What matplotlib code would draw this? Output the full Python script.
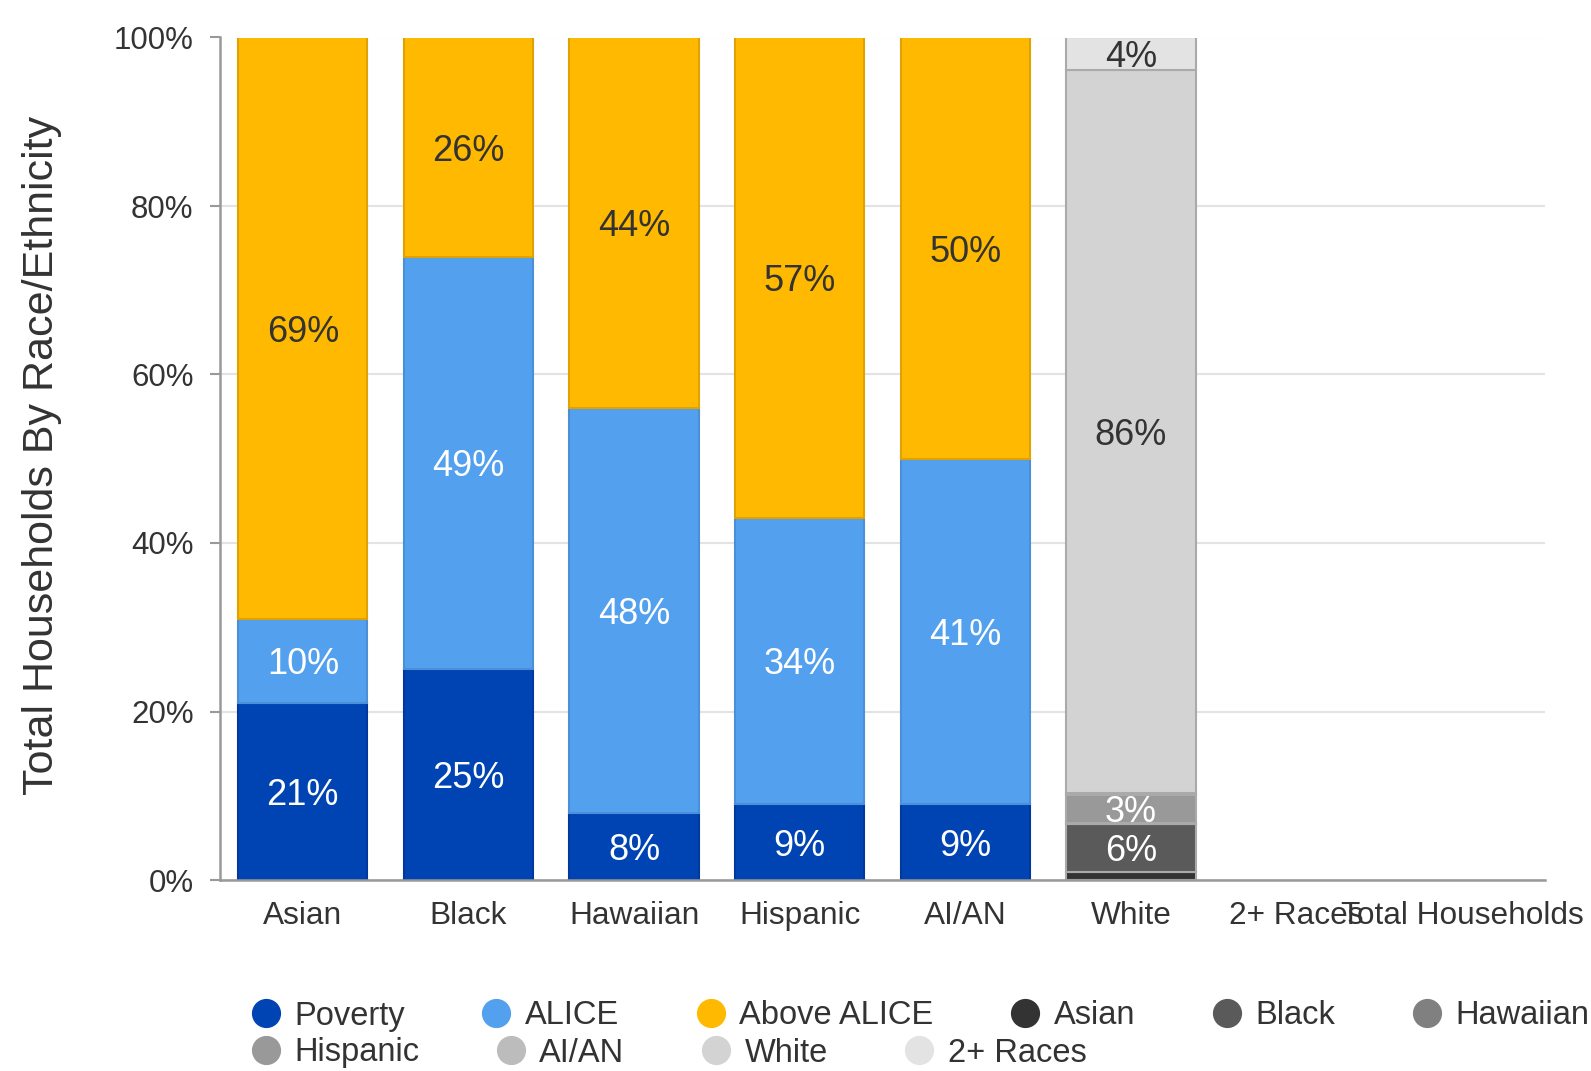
import matplotlib
matplotlib.use("Agg")
import matplotlib.pyplot as plt
from matplotlib.lines import Line2D
import numpy as np

plt.rcParams['font.family'] = ['Liberation Sans', 'DejaVu Sans']

categories = ["Asian", "Black", "Hawaiian", "Hispanic", "AI/AN", "White", "2+ Races", "Total Households"]

# Income status by race (percent)
poverty = [21, 25, 8, 9, 9]
alice = [10, 49, 48, 34, 41]
above_alice = [69, 26, 44, 57, 50]

# Racial composition of total households (drawn in 6th slot)
comp_labels = ["Asian", "Black", "Hawaiian", "Hispanic", "AI/AN", "White", "2+ Races"]
comp_values = [1.0, 5.7, 0.1, 3.3, 0.2, 85.8, 3.9]

status_labels = ["Poverty", "ALICE", "Above ALICE"]
status_colors = ["#0044b4", "#52a0ee", "#ffb900"]
status_edges = ["#0038a0", "#4a8fd8", "#e0a200"]
status_text = ["white", "white", "#333333"]

comp_colors = ["#333333", "#5a5a5a", "#808080", "#999999", "#bcbcbc", "#d3d3d3", "#e3e3e3"]
comp_text = ["white", "white", "white", "white", "#333333", "#333333", "#333333"]

fig = plt.figure(figsize=(15.91, 10.71), dpi=100)
ax = fig.add_axes([220/1591, 1-880/1071, (1545-220)/1591, (880-37.5)/1071])

x = np.arange(len(categories))
width = 0.78
n = len(poverty)
bottom = np.zeros(n)
LBL = 26
for vals, col, ec, tc in zip([poverty, alice, above_alice], status_colors, status_edges, status_text):
    vals = np.array(vals, dtype=float)
    ax.bar(x[:n], vals, width, bottom=bottom, color=col, edgecolor=ec, linewidth=1.5, zorder=3)
    for xi, b, v in zip(x[:n], bottom, vals):
        ax.text(xi, b + v/2, f"{round(v):.0f}%", ha='center', va='center_baseline',
                fontsize=LBL, color=tc, zorder=4)
    bottom += vals

wb = 0.0
xi = x[5]
for v, col, tc in zip(comp_values, comp_colors, comp_text):
    ax.bar(xi, v, width, bottom=wb, color=col, edgecolor="#aaaaaa", linewidth=1.5, zorder=3)
    if v >= 2.5:
        ax.text(xi, wb + v/2, f"{round(v):.0f}%", ha='center', va='center_baseline',
                fontsize=LBL, color=tc, zorder=4)
    wb += v

ax.set_xlim(-0.5, len(categories) - 0.5)
ax.set_ylim(0, 100)
ax.set_yticks([0, 20, 40, 60, 80, 100])
ax.set_yticklabels([f"{t}%" for t in [0, 20, 40, 60, 80, 100]])
ax.set_xticks(x)
ax.set_xticklabels(categories)
ax.tick_params(axis='y', length=7, width=1.5, color="#999999", labelsize=22.5,
               labelcolor="#333333", pad=12)
ax.tick_params(axis='x', length=0, labelsize=22.8, labelcolor="#333333", pad=15)
ax.grid(axis='y', color="#e3e3e3", linewidth=1.5, zorder=0)
ax.set_axisbelow(True)
for s in ["top", "right"]:
    ax.spines[s].set_visible(False)
for s in ["left", "bottom"]:
    ax.spines[s].set_color("#999999")
    ax.spines[s].set_linewidth(1.8)
    ax.spines[s].set_zorder(5)

fig.text(42/1591, 1 - 455/1071, "Total Households By Race/Ethnicity", rotation=90,
         ha='center', va='center', fontsize=31, color="#333333")

def make_handles(colors):
    return [Line2D([0], [0], marker='o', linestyle='none', markersize=20,
                   markerfacecolor=c, markeredgecolor=c) for c in colors]

row1_labels = status_labels + comp_labels[:3]
row1_colors = status_colors + comp_colors[:3]
row2_labels = comp_labels[3:]
row2_colors = comp_colors[3:]

leg_kw = dict(frameon=False, handlelength=0.95, handletextpad=0.4, columnspacing=2.33,
              borderpad=0, borderaxespad=0, fontsize=23.5, loc='center left',
              labelcolor="#333333")
l1 = fig.legend(make_handles(row1_colors), row1_labels, ncol=len(row1_labels),
                bbox_to_anchor=(250/1591, 1 - 1016/1071), **leg_kw)
l2 = fig.legend(make_handles(row2_colors), row2_labels, ncol=len(row2_labels),
                bbox_to_anchor=(250/1591, 1 - 1053/1071), **leg_kw)

fig.savefig("out.png", dpi=100)
